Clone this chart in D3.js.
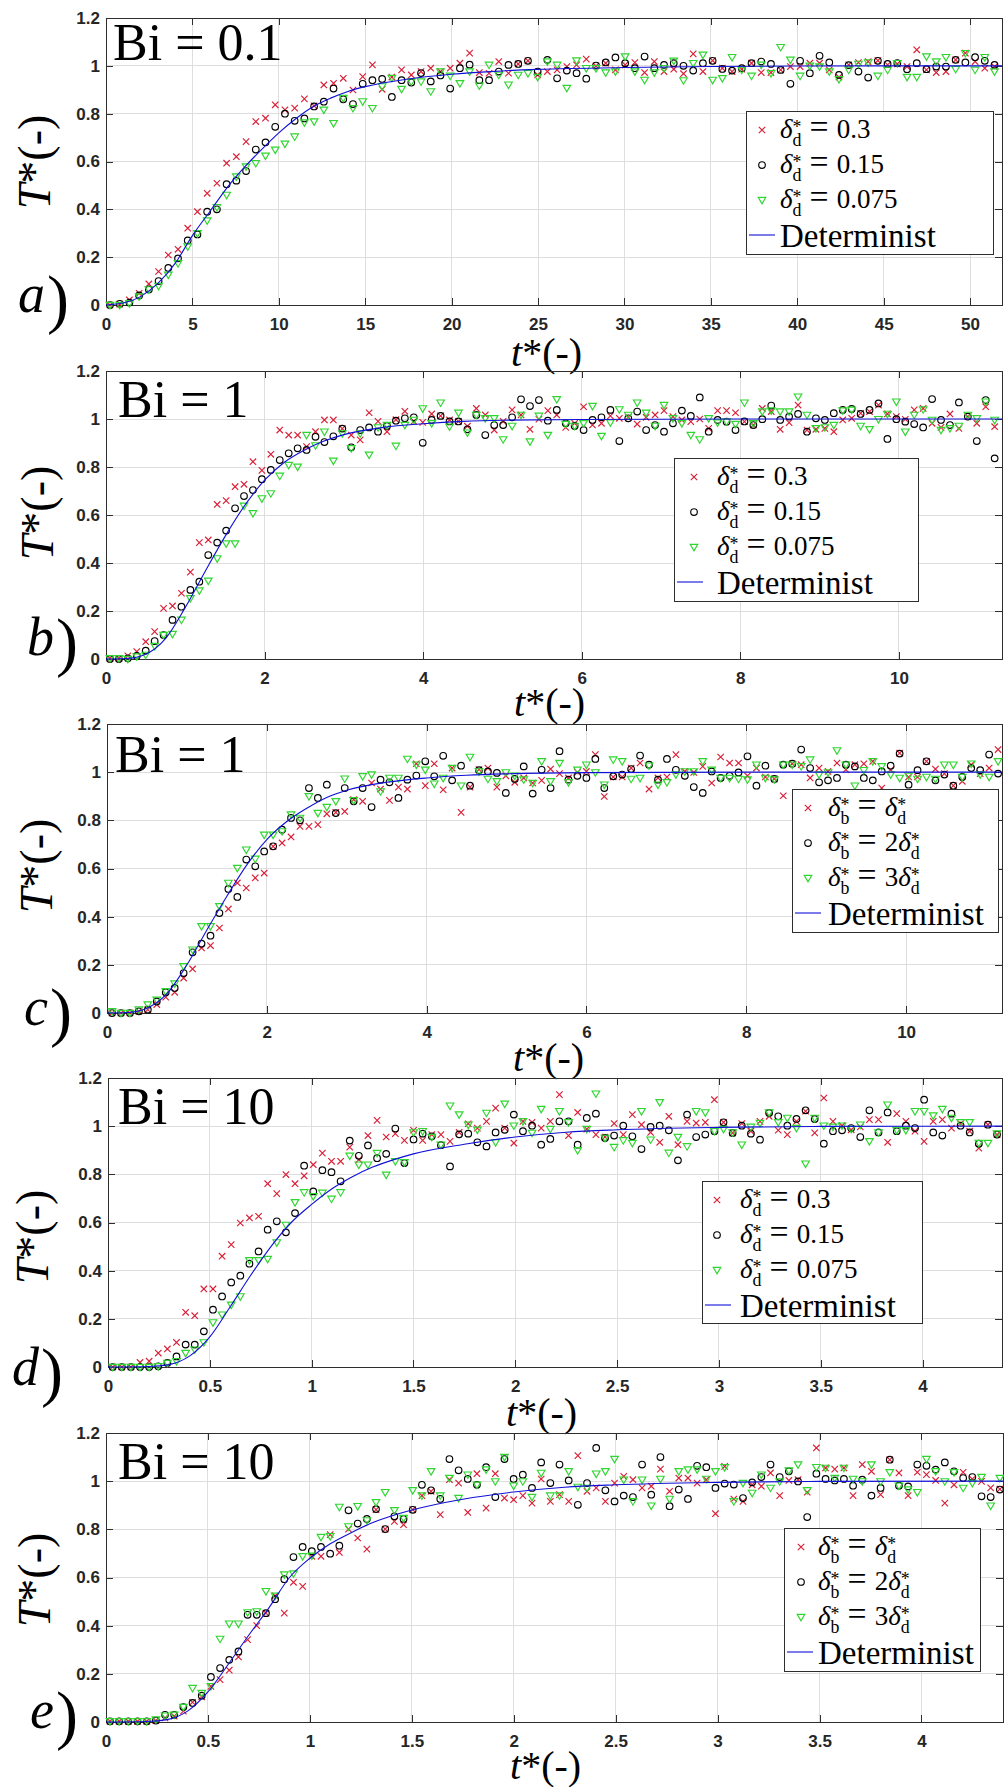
<!DOCTYPE html>
<html>
<head>
<meta charset="utf-8">
<script src="https://cdn.jsdelivr.net/npm/d3@7"></script>
<style>
html,body{margin:0;padding:0;background:#ffffff;}
svg{display:block;}
</style>
</head>
<body>
<svg id="chart" width="1004" height="1787"></svg>
<script>
// ---------------- DATA ----------------
const yTicks = [0, 0.2, 0.4, 0.6, 0.8, 1, 1.2];
const xTicksA = [0, 5, 10, 15, 20, 25, 30, 35, 40, 45, 50];
const xTicksBC = [0, 2, 4, 6, 8, 10];
const xTicksDE = [0, 0.5, 1, 1.5, 2, 2.5, 3, 3.5, 4];

const titles = ["Bi = 0.1", "Bi = 1", "Bi = 1", "Bi = 10", "Bi = 10"];
const panelLetters = ["a", "b", "c", "d", "e"];
const legendDeltaD = [[{sub:"d"}, "=", "0.3"], [{sub:"d"}, "=", "0.15"], [{sub:"d"}, "=", "0.075"]];
const legendDeltaB = [[{sub:"b"}, "=", {sub:"d"}], [{sub:"b"}, "=", "2", {sub:"d"}], [{sub:"b"}, "=", "3", {sub:"d"}]];
const legendLineLabel = "Determinist";

// sampling grids of the stochastic runs (start, step)
const gridA = [0.23, 0.5625];
const gridB = [0.05, 0.1127];
const gridC = [0.063, 0.112];
const gridD = [0.023, 0.04477];
const gridE = [0.0196, 0.045];

// Panel a (Bi = 0.1)
const redA = [0,0.004,0.021,0.049,0.088,0.14,0.209,0.233,0.321,0.39,0.467,0.509,0.593,0.62,0.683,0.767,0.781,0.837,0.816,0.823,0.862,0.833,0.92,0.927,0.948,0.899,0.955,1.004,0.902,0.953,0.983,0.962,0.976,0.99,0.976,0.99,1.011,1.053,0.972,0.969,
1.018,0.969,1.008,1.021,0.962,0.976,0.983,0.997,1.004,1.028,1.0,1.011,0.983,1.004,1.014,0.972,1.018,0.976,0.986,0.967,1.05,0.976,1.022,0.99,0.976,0.986,1.011,0.972,0.972,0.983,0.997,0.997,1.011,1.011,0.983,0.953,1.004,1.014,1.018,1.022,1.004,1.008,0.997,1.067,0.983,0.972,0.976,1.025,1.053,1.018,0.99,0.997];
const blackA = [0,0.005,0.01,0.04,0.065,0.10,0.155,0.195,0.27,0.295,0.39,0.40,0.505,0.52,0.56,0.65,0.68,0.745,0.80,0.77,0.78,0.83,0.85,0.905,0.86,0.84,0.925,0.94,0.945,0.87,0.94,0.93,0.97,0.935,0.96,0.905,0.99,1.005,0.94,0.94,
0.976,1.004,1.008,1.021,0.976,1.025,0.948,0.98,0.969,0.946,1.001,1.014,1.035,1.011,0.99,1.039,0.99,1.004,1.011,1.0,0.98,1.011,1.021,0.987,0.98,0.99,1.011,1.018,1.008,0.983,0.925,1.021,0.969,1.042,1.014,0.962,1.003,0.976,0.951,1.021,1.008,1.011,0.986,1.011,0.986,0.997,0.997,1.025,1.014,1.036,1.021,1.004];
const greenA = [0,0,0.007,0.035,0.065,0.079,0.126,0.174,0.244,0.3,0.353,0.409,0.46,0.537,0.579,0.593,0.624,0.649,0.674,0.704,0.763,0.767,0.816,0.76,0.865,0.823,0.851,0.823,0.914,0.949,0.903,0.934,0.934,0.893,0.976,0.958,0.927,0.976,0.917,1.004,
0.962,0.921,0.962,0.969,0.953,1.018,1.004,0.907,1.022,0.99,0.99,0.972,0.976,1.039,0.976,0.941,0.972,0.99,1.021,0.939,1.011,1.046,0.941,0.948,1.036,0.983,0.958,1.004,0.969,1.078,1.025,0.958,1.0,0.997,0.976,0.944,0.983,1.008,1.014,0.958,0.983,1.011,0.953,0.953,1.039,1.018,1.036,0.986,1.053,0.983,1.036,0.976];
const detTA = [0,1,2,3,4,5,6,7,8,9,10,11,12,13,14,15,17.5,20,22.5,25,30,35,40,45,51.85];
const detVA = [0,0.008,0.035,0.09,0.174,0.29,0.39,0.49,0.575,0.65,0.72,0.78,0.83,0.865,0.893,0.913,0.945,0.965,0.977,0.985,0.993,0.997,0.999,1.0,1.0];

// Panel b (Bi = 1, delta_d)
const redB = [0.003,0.003,0.013,0.031,0.072,0.114,0.211,0.221,0.274,0.362,0.485,0.496,0.644,0.66,0.718,0.728,0.822,0.786,0.853,0.954,0.933,0.933,0.885,0.947,0.996,0.996,0.96,0.933,0.913,1.026,0.99,0.947,0.997,1.032,0.99,0.986,1.021,1.013,0.996,0.99,0.97,1.044,1.017,0.954,
0.99,1.038,1.017,0.957,0.999,1.035,1.017,0.965,0.982,1.051,0.975,0.982,1.013,1.003,1.007,0.979,1.007,1.017,1.035,1.01,0.996,0.989,1.0,0.961,1.035,1.035,1.026,0.989,0.975,1.044,1.031,0.957,0.985,1.058,0.954,0.957,0.961,0.947,0.996,1.003,1.024,1.031,1.058,1.021,1.01,0.999,1.038,1.044,0.982,0.965,1.021,0.961,1.01,0.982,1.051,0.968];
const blackB = [0,0,0.003,0.013,0.035,0.075,0.1,0.163,0.218,0.288,0.322,0.433,0.485,0.535,0.628,0.679,0.704,0.749,0.788,0.829,0.857,0.878,0.871,0.926,0.904,0.928,0.96,0.882,0.954,0.965,0.947,0.971,0.993,1.003,1.007,0.901,0.996,1.013,0.99,0.99,0.957,1.017,0.933,0.975,
0.975,1.007,1.082,1.054,1.079,0.993,1.038,0.982,0.971,0.954,0.996,1.007,1.038,0.908,1.003,1.031,0.954,0.975,0.947,0.982,1.035,1.013,1.09,0.947,0.996,0.989,0.954,0.99,0.975,0.999,1.056,0.996,1.01,1.021,0.947,1.003,0.996,1.024,1.038,1.042,1.021,1.038,1.065,0.917,0.999,0.989,0.979,0.965,1.083,0.996,0.975,1.069,1.01,0.908,1.079,0.836];
const greenB = [0.003,0.003,0,0.01,0.017,0.054,0.1,0.104,0.163,0.253,0.285,0.326,0.419,0.481,0.481,0.638,0.607,0.669,0.69,0.763,0.808,0.801,0.933,0.89,0.947,0.826,0.94,0.878,0.94,0.851,0.965,0.975,0.888,0.975,0.996,1.044,0.982,1.068,0.968,1.026,0.943,1.017,1.003,1.003,
0.915,0.971,1.017,0.906,1.013,0.933,1.082,0.979,0.971,0.982,1.054,0.929,0.985,1.04,1.017,1.068,1.026,0.971,1.058,1.003,0.982,0.933,0.915,1.003,0.985,0.989,0.979,1.068,0.982,1.031,1.035,1.031,1.031,1.093,1.017,0.961,0.965,0.975,1.035,1.038,0.971,0.957,0.999,1.021,1.072,0.947,1.017,1.04,0.996,0.954,0.961,0.971,1.017,1.003,1.072,0.996];
const detTB = [0,0.25,0.5,0.75,1,1.25,1.5,1.75,2,2.25,2.5,2.75,3,3.5,4,4.5,5,6,8,11.3];
const detVB = [0,0.002,0.02,0.085,0.215,0.365,0.51,0.64,0.745,0.82,0.87,0.908,0.935,0.965,0.98,0.99,0.995,0.998,1,1];

// Panel c (Bi = 1, delta_b)
const redC = [0,0,0,0.007,0.014,0.035,0.066,0.086,0.145,0.183,0.27,0.28,0.353,0.432,0.54,0.519,0.561,0.581,0.692,0.706,0.731,0.775,0.775,0.782,0.827,0.833,0.837,0.886,0.879,0.955,0.93,0.883,0.938,0.93,1.035,0.944,1.035,0.927,1.017,0.833,0.938,1.011,1.017,0.938,
0.985,0.958,0.976,0.955,0.966,1.013,0.994,0.976,0.999,1.003,1.073,0.899,0.98,0.98,1.017,1.038,0.93,0.976,0.98,1.073,1.003,0.999,1.024,0.955,1.063,1.038,1.038,0.985,1.017,0.98,0.972,0.902,1.035,1.031,0.976,1.017,1.003,1.038,1.01,1.031,1.035,1.045,0.934,1.01,1.079,0.98,0.98,1.045,1.013,0.994,0.944,0.962,1.031,0.994,1.017,1.094];
const blackC = [0,0,0,0.007,0.014,0.048,0.086,0.104,0.166,0.252,0.288,0.321,0.415,0.515,0.482,0.637,0.609,0.671,0.692,0.761,0.81,0.8,0.934,0.893,0.948,0.83,0.934,0.879,0.934,0.855,0.969,0.958,0.893,0.969,0.986,1.045,0.983,1.068,0.966,1.027,0.944,1.008,1.003,0.997,
0.914,0.972,1.024,0.911,1.01,0.934,1.087,0.969,0.985,0.976,1.055,0.934,0.983,0.99,1.013,1.069,1.031,0.969,1.055,1.01,0.985,0.938,0.914,1.003,0.976,0.985,0.999,1.066,0.944,1.027,0.972,1.031,1.035,1.094,1.017,0.958,0.966,0.976,1.031,1.024,0.976,0.966,1.003,1.027,1.077,0.948,1.008,1.045,0.966,0.99,0.944,0.98,1.017,1.008,1.073,0.994];
const greenC = [0.007,0,0,0.014,0.035,0.055,0.09,0.122,0.194,0.263,0.36,0.36,0.443,0.54,0.602,0.678,0.64,0.74,0.74,0.754,0.824,0.81,0.9,0.83,0.855,0.879,0.973,0.883,0.983,0.99,0.92,0.976,0.976,1.055,1.031,1.01,0.952,0.976,1.017,0.944,1.063,1.003,0.972,0.962,
0.999,0.985,0.969,0.955,1.045,0.962,1.038,0.958,1.01,1.031,0.999,0.948,1.052,1.045,0.972,0.976,1.027,0.948,0.958,0.99,1.003,1.003,1.045,1.01,0.976,0.976,0.972,0.969,1.031,0.976,0.969,1.031,1.031,1.024,1.052,0.99,0.999,1.09,1.031,0.944,1.008,1.045,1.024,0.99,0.976,0.985,0.972,0.98,0.972,1.031,1.031,0.98,1.035,0.99,0.98,1.045];
const detTC = [0,0.25,0.5,0.75,1,1.25,1.5,1.75,2,2.25,2.5,2.75,3,3.5,4,4.5,5,6,8,11.2];
const detVC = [0,0.002,0.02,0.08,0.2,0.345,0.485,0.615,0.72,0.795,0.85,0.895,0.925,0.958,0.976,0.987,0.993,0.998,1,1];

// Panel d (Bi = 10, delta_d)
const redD = [0,0,0,0.019,0.024,0.058,0.075,0.102,0.227,0.213,0.324,0.324,0.46,0.508,0.598,0.619,0.626,0.761,0.72,0.799,0.761,0.794,0.84,0.888,0.854,0.854,0.913,0.861,0.961,1.024,0.955,0.969,0.941,0.983,0.941,0.965,0.965,0.937,0.974,1.01,0.992,1.02,1.075,
0.992,0.93,1.02,1.016,0.992,1.02,1.131,0.961,1.057,0.988,0.965,0.955,1.011,0.965,1.048,1.006,0.974,0.933,1.041,0.923,1.02,1.013,1.016,1.11,1.016,0.972,1.011,0.979,1.02,1.041,0.983,0.965,1.02,1.062,0.972,1.117,1.02,1.002,0.985,0.997,1.027,1.027,0.933,1.052,1.02,0.979,0.937,1.02,1.027,0.992,1.011,0.979,0.909,1.006,0.965];
const blackD = [0,0,0,0,0,0.003,0.017,0.044,0.093,0.093,0.148,0.238,0.293,0.351,0.379,0.429,0.48,0.57,0.605,0.559,0.639,0.836,0.729,0.817,0.809,0.771,0.94,0.877,0.92,0.867,0.885,0.99,0.847,0.945,0.969,0.958,0.921,0.833,0.966,0.969,0.933,0.916,0.974,
0.985,1.048,0.979,1.002,0.923,0.947,1.02,1.02,0.923,1.034,1.052,0.951,0.961,1.002,0.958,0.905,0.997,1.002,0.983,0.858,1.048,0.955,0.965,0.979,1.016,0.972,1.002,0.969,0.944,1.055,1.041,1.002,1.03,1.066,1.03,0.927,0.979,0.983,0.992,0.955,1.066,0.974,1.057,0.979,1.002,0.992,1.11,0.974,0.961,1.052,1.002,0.974,0.927,1.006,0.965];
const greenD = [0,0,0,0,0,0.003,0.017,0.024,0.058,0.072,0.102,0.185,0.217,0.258,0.293,0.443,0.443,0.448,0.517,0.59,0.684,0.725,0.709,0.723,0.698,0.725,0.877,0.84,0.84,0.888,0.798,0.854,0.85,0.974,0.979,0.955,0.923,1.085,1.048,1.006,0.985,1.055,0.933,
1.093,1.002,1.02,0.972,1.071,0.988,1.062,1.016,0.9,0.988,1.135,0.951,0.913,0.941,0.93,1.062,0.944,1.099,0.889,0.955,0.916,1.062,1.057,0.979,0.988,0.974,0.923,0.997,1.013,1.057,1.016,1.034,0.992,0.844,1.034,1.002,0.997,1.002,0.988,1.006,0.937,0.974,1.089,0.983,0.983,1.062,1.062,1.044,1.071,1.034,1.016,1.016,0.93,0.93,0.969];
const detTD = [0,0.2,0.3,0.4,0.5,0.6,0.7,0.8,0.9,1,1.1,1.2,1.3,1.4,1.5,1.75,2,2.25,2.5,3,3.5,4.39];
const detVD = [0,0.002,0.01,0.045,0.125,0.25,0.38,0.5,0.6,0.675,0.74,0.79,0.83,0.86,0.885,0.925,0.955,0.975,0.985,0.995,0.999,1];

// Panel e (Bi = 10, delta_b)
const redE = [0.003,0.003,0.003,0.003,0.003,0.006,0.017,0.024,0.045,0.082,0.104,0.148,0.176,0.215,0.27,0.342,0.4,0.452,0.524,0.452,0.58,0.563,0.688,0.688,0.778,0.704,0.801,0.764,0.718,0.882,0.801,0.833,0.819,0.882,0.94,0.958,0.861,1.006,0.992,0.87,1.031,0.888,1.031,
0.93,0.923,0.94,0.909,1.009,0.916,0.944,0.916,1.106,0.958,0.972,0.916,0.992,1.02,1.006,0.972,0.979,1.05,0.958,1.013,1.013,0.992,1.006,0.865,1.061,0.926,0.916,0.985,0.979,1.034,0.94,1.003,1.006,0.954,1.138,1.055,1.05,1.055,0.94,1.069,1.041,0.944,1.089,1.034,0.94,1.037,1.027,1.003,0.909,0.985,1.037,1.009,0.999,0.972,0.967];
const blackE = [0.003,0.003,0.003,0.003,0.003,0.006,0.03,0.03,0.062,0.079,0.109,0.187,0.224,0.258,0.293,0.445,0.445,0.452,0.51,0.593,0.685,0.727,0.709,0.727,0.699,0.732,0.879,0.824,0.843,0.884,0.801,0.854,0.843,0.881,0.985,0.962,0.926,1.092,1.045,1.009,0.985,1.058,0.934,
1.092,1.009,1.027,0.972,1.078,0.992,1.069,1.003,0.902,0.992,1.138,0.962,0.916,0.94,0.934,1.069,0.944,1.1,0.896,0.965,0.926,1.064,1.058,0.972,0.99,0.986,0.93,0.995,1.017,1.069,1.017,1.041,0.999,0.851,1.031,1.009,1.003,1.009,0.981,1.006,0.94,0.972,1.089,0.981,0.978,1.069,1.064,1.048,1.078,1.041,1.013,1.017,0.937,0.934,0.965];
const greenE = [0.003,0.003,0.003,0.003,0.003,0.01,0.026,0.03,0.062,0.141,0.12,0.148,0.345,0.408,0.408,0.455,0.459,0.543,0.524,0.612,0.616,0.688,0.69,0.768,0.771,0.893,0.812,0.896,0.837,0.912,0.954,0.879,0.847,0.962,0.94,1.041,0.94,1.013,0.93,1.027,0.985,1.048,0.999,
1.1,0.981,0.999,0.934,1.034,0.94,0.94,1.041,0.976,0.972,1.031,1.041,1.092,1.006,0.916,1.006,0.898,1.009,0.926,1.041,1.048,1.048,1.009,1.041,1.058,0.916,0.992,0.951,1.027,0.972,0.999,1.044,1.069,0.962,1.058,1.055,1.013,1.055,1.009,0.999,1.069,0.999,1.037,0.981,0.965,0.954,1.092,1.041,0.999,1.037,0.972,0.992,1.017,0.898,1.013];
const detTE = [0,0.2,0.3,0.4,0.5,0.6,0.7,0.8,0.9,1,1.1,1.2,1.3,1.4,1.5,1.75,2,2.25,2.5,3,3.5,4.4];
const detVE = [0,0.002,0.01,0.045,0.125,0.24,0.36,0.475,0.6,0.68,0.74,0.785,0.825,0.855,0.88,0.925,0.955,0.975,0.985,0.995,0.999,1];

// ---------------- LAYOUT ----------------
function sampleTimes(n, grid) { return d3.range(n).map(i => grid[0] + i * grid[1]); }

const panels = [
  {left:106, right:1002, top:18, bottom:305, xmax:51.85, xticks:xTicksA, grid:gridA, red:redA, black:blackA, green:greenA, detT:detTA, detV:detVA,
   titleX:113, titleY:60, letterX:18, letterY:312, ylabX:50, ylabY:162, xlabX:511, xlabY:366, lg:{x:746,y:111,w:247,h:143,mk:16,tx:34}, leg:legendDeltaD},
  {left:106, right:1002, top:371, bottom:659, xmax:11.3, xticks:xTicksBC, grid:gridB, red:redB, black:blackB, green:greenB, detT:detTB, detV:detVB,
   titleX:118, titleY:417, letterX:27, letterY:655, ylabX:53, ylabY:513, xlabX:514, xlabY:716, lg:{x:674,y:458,w:244,h:143,mk:20,tx:43}, leg:legendDeltaD},
  {left:107, right:1002, top:724, bottom:1013, xmax:11.2, xticks:xTicksBC, grid:gridC, red:redC, black:blackC, green:greenC, detT:detTC, detV:detVC,
   titleX:115, titleY:772, letterX:24, letterY:1025, ylabX:52, ylabY:866, xlabX:513, xlabY:1071, lg:{x:792,y:789,w:206,h:143,mk:16,tx:36}, leg:legendDeltaB},
  {left:108, right:1002, top:1078, bottom:1367, xmax:4.39, xticks:xTicksDE, grid:gridD, red:redD, black:blackD, green:greenD, detT:detTD, detV:detVD,
   titleX:118, titleY:1124, letterX:12, letterY:1385, ylabX:48, ylabY:1237, xlabX:506, xlabY:1426, lg:{x:702,y:1181,w:220,h:142,mk:15,tx:38}, leg:legendDeltaD},
  {left:106, right:1003, top:1433, bottom:1722, xmax:4.4, xticks:xTicksDE, grid:gridE, red:redE, black:blackE, green:greenE, detT:detTE, detV:detVE,
   titleX:118, titleY:1479, letterX:30, letterY:1728, ylabX:50, ylabY:1580, xlabX:510, xlabY:1779, lg:{x:784,y:1528,w:196,h:143,mk:17,tx:34}, leg:legendDeltaB}
];

const SERIF = "'Liberation Serif','Times New Roman',serif";
const SANS = "'Liberation Sans',Arial,Helvetica,sans-serif";
const RED = "#d91e36", GREEN = "#2fd62f", BLUE = "#1010d8", AX = "#2e2e2e", GRIDC = "#dedede";
const crossPath = "M-3.2,-3.2L3.2,3.2M-3.2,3.2L3.2,-3.2";
const triPath = "M-3.8,-2.7L3.8,-2.7L0,3.8Z";
const MSW = 1.15;

const svg = d3.select("#chart");

function addMath(textSel, tokens, fs) {
  let shift = 0;
  let pendingDx = 0;
  const sfs = fs * 0.66;
  const gap = fs * 0.3;
  tokens.forEach(tok => {
    if (tok === "=") {
      textSel.append("tspan").attr("dy", -shift).attr("dx", gap).attr("font-size", fs * 1.25).text("=");
      shift = 0; pendingDx = gap;
    } else if (typeof tok === "string") {
      textSel.append("tspan").attr("dy", -shift).attr("dx", pendingDx).attr("font-size", fs).text(tok);
      shift = 0; pendingDx = 0;
    } else {
      textSel.append("tspan").attr("dy", -shift).attr("dx", pendingDx).attr("font-size", fs).attr("font-style", "italic").text("δ");
      textSel.append("tspan").attr("font-size", sfs).attr("dy", -fs * 0.2).text("*");
      textSel.append("tspan").attr("font-size", sfs).attr("dx", -sfs * 0.5).attr("dy", fs * 0.2 + fs * 0.3).text(tok.sub);
      shift = fs * 0.3; pendingDx = 0;
    }
  });
}

panels.forEach((p, i) => {
  const x = d3.scaleLinear().domain([0, p.xmax]).range([p.left, p.right]);
  const y = d3.scaleLinear().domain([0, 1.2]).range([p.bottom, p.top]);
  const t = sampleTimes(p.red.length, p.grid);
  const g = svg.append("g");

  // grid
  g.append("g").selectAll("line").data(p.xticks.filter(v => v > 0)).join("line")
    .attr("x1", d => x(d)).attr("x2", d => x(d)).attr("y1", p.top).attr("y2", p.bottom)
    .attr("stroke", GRIDC).attr("stroke-width", 1).attr("shape-rendering", "crispEdges");
  g.append("g").selectAll("line").data(yTicks.filter(v => v > 0 && v < 1.2)).join("line")
    .attr("y1", d => y(d)).attr("y2", d => y(d)).attr("x1", p.left).attr("x2", p.right)
    .attr("stroke", GRIDC).attr("stroke-width", 1).attr("shape-rendering", "crispEdges");

  // axes (ticks inward on all four sides)
  const styleAxis = sel => {
    sel.select(".domain").remove();
    sel.selectAll(".tick line").attr("stroke", AX).attr("shape-rendering", "crispEdges");
    sel.selectAll(".tick text").attr("font-family", SANS).attr("font-size", 17)
      .attr("font-weight", "bold").attr("fill", "#262626");
  };
  g.append("g").attr("transform", `translate(0,${p.bottom})`)
    .call(d3.axisBottom(x).tickValues(p.xticks).tickSizeInner(-7).tickSizeOuter(0).tickPadding(13).tickFormat(d => String(d)))
    .call(styleAxis);
  g.append("g").attr("transform", `translate(0,${p.top})`)
    .call(d3.axisTop(x).tickValues(p.xticks).tickSizeInner(-7).tickSizeOuter(0).tickFormat(""))
    .call(styleAxis);
  g.append("g").attr("transform", `translate(${p.left},0)`)
    .call(d3.axisLeft(y).tickValues(yTicks).tickSizeInner(-7).tickSizeOuter(0).tickPadding(6).tickFormat(d => String(d)))
    .call(styleAxis);
  g.append("g").attr("transform", `translate(${p.right},0)`)
    .call(d3.axisRight(y).tickValues(yTicks).tickSizeInner(-7).tickSizeOuter(0).tickFormat(""))
    .call(styleAxis);
  g.append("rect").attr("x", p.left).attr("y", p.top).attr("width", p.right - p.left).attr("height", p.bottom - p.top)
    .attr("fill", "none").attr("stroke", AX).attr("stroke-width", 1).attr("shape-rendering", "crispEdges");

  // markers
  g.append("g").selectAll("path").data(d3.zip(t, p.red)).join("path")
    .attr("transform", d => `translate(${x(d[0])},${y(d[1])})`).attr("d", crossPath)
    .attr("fill", "none").attr("stroke", RED).attr("stroke-width", MSW);
  g.append("g").selectAll("circle").data(d3.zip(t, p.black)).join("circle")
    .attr("cx", d => x(d[0])).attr("cy", d => y(d[1])).attr("r", 3.3)
    .attr("fill", "none").attr("stroke", "#000").attr("stroke-width", MSW);
  g.append("g").selectAll("path").data(d3.zip(t, p.green)).join("path")
    .attr("transform", d => `translate(${x(d[0])},${y(d[1])})`).attr("d", triPath)
    .attr("fill", "none").attr("stroke", GREEN).attr("stroke-width", MSW);

  // deterministic curve
  const line = d3.line().x(d => x(d[0])).y(d => y(d[1])).curve(d3.curveMonotoneX);
  g.append("path").datum(d3.zip(p.detT, p.detV)).attr("d", line)
    .attr("fill", "none").attr("stroke", BLUE).attr("stroke-width", 1.1);

  // legend
  const L = p.lg;
  const lg = g.append("g");
  lg.append("rect").attr("x", L.x).attr("y", L.y).attr("width", L.w).attr("height", L.h)
    .attr("fill", "#fff").attr("stroke", AX).attr("stroke-width", 1).attr("shape-rendering", "crispEdges");
  const rows = [19, 54, 89, 124];
  lg.append("path").attr("transform", `translate(${L.x + L.mk},${L.y + rows[0]})`).attr("d", crossPath)
    .attr("fill", "none").attr("stroke", RED).attr("stroke-width", MSW);
  lg.append("circle").attr("cx", L.x + L.mk).attr("cy", L.y + rows[1]).attr("r", 3.3)
    .attr("fill", "none").attr("stroke", "#000").attr("stroke-width", MSW);
  lg.append("path").attr("transform", `translate(${L.x + L.mk},${L.y + rows[2]})`).attr("d", triPath)
    .attr("fill", "none").attr("stroke", GREEN).attr("stroke-width", MSW);
  lg.append("line").attr("x1", L.x + 3).attr("x2", L.x + 29).attr("y1", L.y + rows[3]).attr("y2", L.y + rows[3])
    .attr("stroke", BLUE).attr("stroke-width", 1.1);
  p.leg.forEach((tokens, k) => {
    const tx = lg.append("text").attr("x", L.x + L.tx).attr("y", L.y + rows[k] + 8)
      .attr("font-family", SERIF).attr("fill", "#000");
    addMath(tx, tokens, 27);
  });
  lg.append("text").attr("x", L.x + L.tx).attr("y", L.y + rows[3] + 11.7)
    .attr("font-family", SERIF).attr("font-size", 33).attr("fill", "#000").text(legendLineLabel);

  // title
  g.append("text").attr("x", p.titleX).attr("y", p.titleY).attr("font-family", SERIF)
    .attr("font-size", 52).attr("fill", "#000").text(titles[i]);

  // panel letter
  const lt = g.append("text").attr("x", p.letterX).attr("y", p.letterY).attr("font-family", SERIF).attr("fill", "#000");
  lt.append("tspan").attr("font-size", 54).attr("font-style", "italic").text(panelLetters[i]);
  lt.append("tspan").attr("font-size", 66).attr("dx", 2).attr("dy", 9).text(")");

  // y label
  const yl = g.append("text").attr("transform", `translate(${p.ylabX},${p.ylabY}) rotate(-90)`)
    .attr("text-anchor", "middle").attr("font-family", SERIF).attr("font-size", 46).attr("fill", "#000");
  yl.append("tspan").attr("font-style", "italic").text("T");
  yl.append("tspan").text("*(-)");

  // x label
  const xl = g.append("text").attr("x", p.xlabX).attr("y", p.xlabY)
    .attr("font-family", SERIF).attr("font-size", 40).attr("fill", "#000");
  xl.append("tspan").attr("font-style", "italic").text("t");
  xl.append("tspan").text("*(-)");
});
</script>
</body>
</html>
